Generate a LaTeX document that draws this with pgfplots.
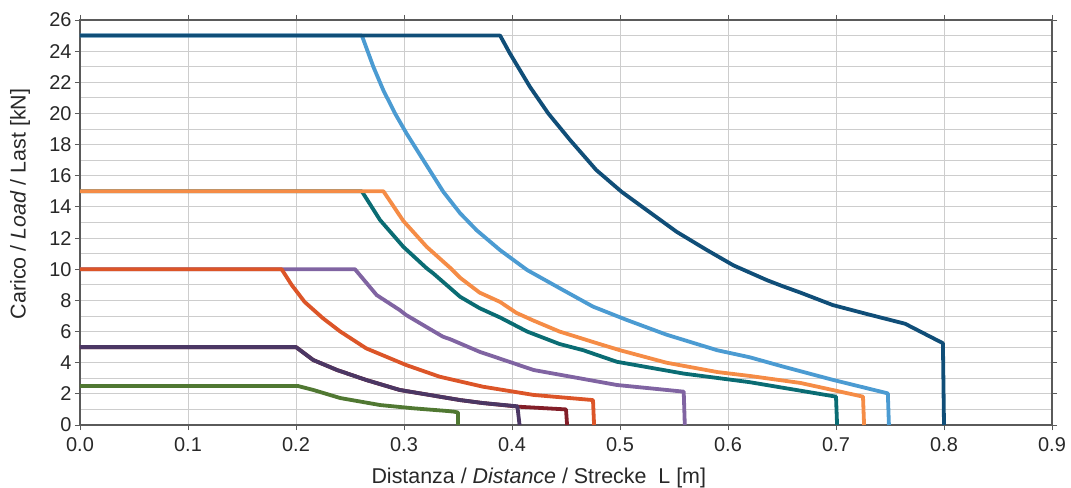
\documentclass[border=0pt]{standalone}
\usepackage{pgfplots}
\pgfplotsset{compat=1.18}
\usepackage{fontspec}
\setmainfont{Liberation Sans}
\definecolor{cDB}{RGB}{16,78,120}
\definecolor{cLB}{RGB}{75,155,210}
\definecolor{cOR}{RGB}{245,140,70}
\definecolor{cTE}{RGB}{10,108,115}
\definecolor{cPU}{RGB}{128,100,162}
\definecolor{cRO}{RGB}{220,85,40}
\definecolor{cMA}{RGB}{130,30,40}
\definecolor{cDP}{RGB}{75,55,100}
\definecolor{cGR}{RGB}{80,120,50}
\definecolor{cGrid}{RGB}{205,205,205}
\definecolor{cAx}{RGB}{90,90,90}
\definecolor{cTxt}{RGB}{40,40,40}
\begin{document}
\begin{tikzpicture}
\begin{axis}[
  scale only axis, width=972bp, height=405bp,
  xmin=0, xmax=0.9, ymin=0, ymax=26,
  xtick={0,0.1,0.2,0.3,0.4,0.5,0.6,0.7,0.8,0.9},
  ytick={0,2,4,6,8,10,12,14,16,18,20,22,24,26},
  minor ytick={1,3,5,7,9,11,13,15,17,19,21,23,25},
  grid=both,
  major grid style={cGrid, line width=0.9bp},
  minor grid style={cGrid, line width=0.9bp},
  axis line style={cAx, line width=1.1bp},
  tick align=outside,
  major tick style={cAx, line width=0.9bp},
  major tick length=5bp, minor tick length=0bp,
  xticklabel style={/pgf/number format/fixed, /pgf/number format/zerofill, /pgf/number format/precision=1, yshift=-4bp},
  /pgf/number format/assume math mode=true,
  ticklabel style={font=\fontsize{20}{22}\selectfont, text=cTxt},
  label style={font=\fontsize{21.5}{24}\selectfont, text=cTxt},
  xlabel={Distanza / \textit{Distance} / Strecke\ \ L [m]},
  ylabel={Carico / \textit{Load} / Last [kN]},
  xlabel style={at={(axis description cs:0.472,0)}, anchor=center, yshift=-53bp},
  ylabel style={at={(axis description cs:0,0.546)}, anchor=center, yshift=60bp},
  every axis plot/.append style={line width=3.8bp, line join=round},
]
\coordinate (O) at (rel axis cs:0,0);
% light blue
\addplot[cLB] coordinates {(0,25) (0.261,25) (0.2716,23.0) (0.2808,21.5) (0.2917,20.0) (0.3025,18.7) (0.3179,17.0) (0.3364,14.97) (0.3519,13.6) (0.3673,12.5) (0.3889,11.23) (0.414,9.95) (0.445,8.75) (0.475,7.6) (0.506,6.75) (0.543,5.8) (0.590,4.8) (0.620,4.35) (0.651,3.75) (0.697,2.9) (0.748,2.03) (0.749,0)};
% dark blue
\addplot[cDB] coordinates {(0,25) (0.389,25) (0.398,23.86) (0.4167,21.7) (0.4336,20.0) (0.4537,18.3) (0.478,16.37) (0.5015,14.97) (0.5247,13.8) (0.5525,12.4) (0.580,11.25) (0.605,10.25) (0.636,9.3) (0.651,8.9) (0.667,8.5) (0.697,7.7) (0.730,7.1) (0.764,6.5) (0.799,5.25) (0.800,0)};
% teal
\addplot[cTE] coordinates {(0,15) (0.261,15) (0.2778,13.16) (0.2994,11.44) (0.321,10.06) (0.327,9.74) (0.352,8.23) (0.370,7.5) (0.389,6.9) (0.414,6.0) (0.444,5.2) (0.466,4.8) (0.497,4.06) (0.559,3.3) (0.620,2.75) (0.700,1.82) (0.701,0)};
% orange
\addplot[cOR] coordinates {(0,15) (0.281,15) (0.2994,13.1) (0.321,11.44) (0.3426,10.1) (0.352,9.45) (0.370,8.5) (0.389,7.9) (0.404,7.2) (0.420,6.7) (0.444,6.0) (0.481,5.2) (0.500,4.8) (0.543,4.0) (0.590,3.4) (0.620,3.15) (0.667,2.7) (0.725,1.82) (0.726,0)};
% purple
\addplot[cPU] coordinates {(0,10) (0.2546,10) (0.2747,8.34) (0.296,7.38) (0.302,7.06) (0.336,5.67) (0.343,5.5) (0.370,4.7) (0.420,3.53) (0.497,2.57) (0.559,2.14) (0.560,0)};
% red-orange
\addplot[cRO] coordinates {(0,10) (0.1867,10) (0.196,8.99) (0.208,7.9) (0.225,6.85) (0.241,6.0) (0.265,4.92) (0.302,3.85) (0.333,3.1) (0.373,2.46) (0.420,1.93) (0.475,1.6) (0.476,0)};
% maroon
\addplot[cMA] coordinates {(0,5) (0.200,5) (0.216,4.17) (0.238,3.53) (0.265,2.89) (0.296,2.25) (0.352,1.6) (0.373,1.41) (0.407,1.17) (0.450,1.0) (0.451,0)};
% dark purple
\addplot[cDP] coordinates {(0,5) (0.200,5) (0.216,4.17) (0.238,3.53) (0.265,2.89) (0.296,2.25) (0.352,1.6) (0.373,1.41) (0.405,1.2) (0.407,0)};
% green
\addplot[cGR] coordinates {(0,2.5) (0.202,2.5) (0.216,2.25) (0.241,1.73) (0.278,1.28) (0.309,1.07) (0.340,0.9) (0.346,0.86) (0.350,0.80) (0.350,0)};
\end{axis}
\pgfresetboundingbox
\path[use as bounding box] (O) ++(-80bp,-63bp) rectangle ++(1071bp,488bp);
\end{tikzpicture}
\end{document}
